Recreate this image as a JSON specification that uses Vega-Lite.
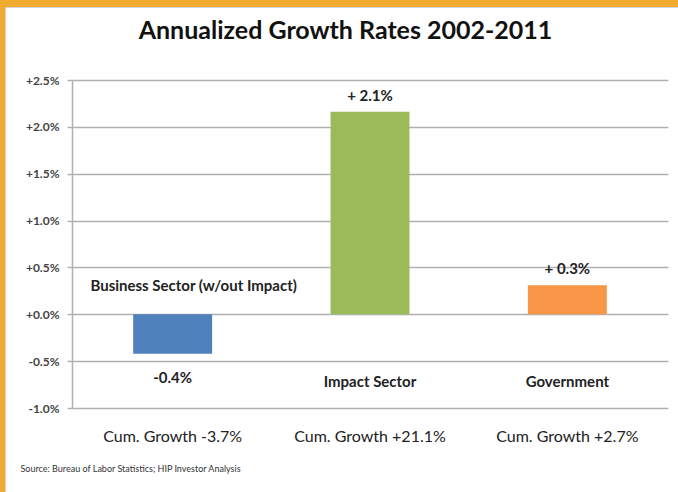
{
  "$schema": "https://vega.github.io/schema/vega-lite/v6.json",
  "width": 673,
  "height": 485,
  "autosize": {"type": "none"},
  "padding": {"left": 5, "top": 7, "right": 0, "bottom": 0},
  "background": "#F0AC2F",
  "config": {
    "view": {"fill": "white", "stroke": "#d4d4d4", "strokeWidth": 1},
    "font": "Lato"
  },
  "title": {
    "text": "Annualized Growth Rates 2002-2011",
    "font": "Lato",
    "fontSize": 25,
    "fontWeight": "bold",
    "color": "#111111",
    "offset": -57,
    "baseline": "alphabetic",
    "dx": 4,
    "anchor": "middle",
    "frame": "group"
  },
  "data": {
    "values": [
      {"sector": "Business Sector (w/out Impact)", "cum": "Cum. Growth  -3.7%", "value": -0.42, "label": "-0.4%"},
      {"sector": "Impact Sector", "cum": "Cum. Growth  +21.1%", "value": 2.16, "label": "+ 2.1%"},
      {"sector": "Government", "cum": "Cum. Growth  +2.7%", "value": 0.31, "label": "+ 0.3%"}
    ]
  },
  "encoding": {
    "x": {
      "field": "cum",
      "type": "nominal",
      "sort": null,
      "scale": {"range": [67, 663], "paddingInner": 0.6, "paddingOuter": 0.31},
      "axis": {
        "orient": "bottom",
        "offset": -84,
        "domain": false,
        "ticks": false,
        "grid": false,
        "labelAngle": 0,
        "labelFont": "Lato",
        "labelFontSize": 16,
        "labelColor": "#222222",
        "labelPadding": 20,
        "title": "Source: Bureau of Labor Statistics; HIP Investor Analysis",
        "titleFont": "Lato",
        "titleFontSize": 9,
        "titleFontWeight": "normal",
        "titleColor": "#333333",
        "titleAnchor": "start",
        "titleAlign": "left",
        "titleBaseline": "middle",
        "titleX": 15,
        "titleY": 60
      }
    },
    "y": {
      "field": "value",
      "type": "quantitative",
      "scale": {"domain": [-1, 2.5], "range": [401, 73], "nice": false, "zero": false},
      "axis": {
        "values": [-1, -0.5, 0, 0.5, 1, 1.5, 2, 2.5],
        "labelExpr": "(datum.value >= 0 ? '+' : '-') + format(abs(datum.value), '.1f') + '%'",
        "offset": -67,
        "title": null,
        "grid": true,
        "gridColor": "#b0b0b0",
        "gridWidth": 1.5,
        "domainColor": "#b0b0b0",
        "domainWidth": 1.5,
        "tickColor": "#b0b0b0",
        "tickWidth": 1.5,
        "tickSize": 5,
        "labelFont": "Lato",
        "labelFontSize": 12,
        "labelFontWeight": "bold",
        "labelColor": "#444444",
        "labelPadding": 8
      }
    }
  },
  "layer": [
    {
      "mark": {"type": "bar"},
      "encoding": {
        "color": {
          "field": "sector",
          "type": "nominal",
          "scale": {
            "domain": ["Business Sector (w/out Impact)", "Impact Sector", "Government"],
            "range": ["#4F81BD", "#9BBB59", "#F79646"]
          },
          "legend": null
        }
      }
    },
    {
      "transform": [{"filter": "datum.value > 0"}],
      "mark": {"type": "text", "font": "Lato", "fontSize": 15, "fontWeight": "bold", "color": "#222222", "baseline": "middle", "dy": -16},
      "encoding": {"text": {"field": "label"}}
    },
    {
      "transform": [{"filter": "datum.value < 0"}],
      "mark": {"type": "text", "font": "Lato", "fontSize": 15, "fontWeight": "bold", "color": "#222222", "baseline": "middle", "dy": 24},
      "encoding": {"text": {"field": "label"}}
    },
    {
      "transform": [{"filter": "datum.value < 0"}],
      "mark": {"type": "text", "font": "Lato", "fontSize": 15, "fontWeight": "bold", "color": "#222222", "baseline": "middle", "dx": 21},
      "encoding": {"text": {"field": "sector"}, "y": {"datum": 0.3}}
    },
    {
      "transform": [{"filter": "datum.value > 0"}],
      "mark": {"type": "text", "font": "Lato", "fontSize": 15, "fontWeight": "bold", "color": "#222222", "baseline": "middle"},
      "encoding": {"text": {"field": "sector"}, "y": {"datum": -0.72}}
    }
  ]
}
